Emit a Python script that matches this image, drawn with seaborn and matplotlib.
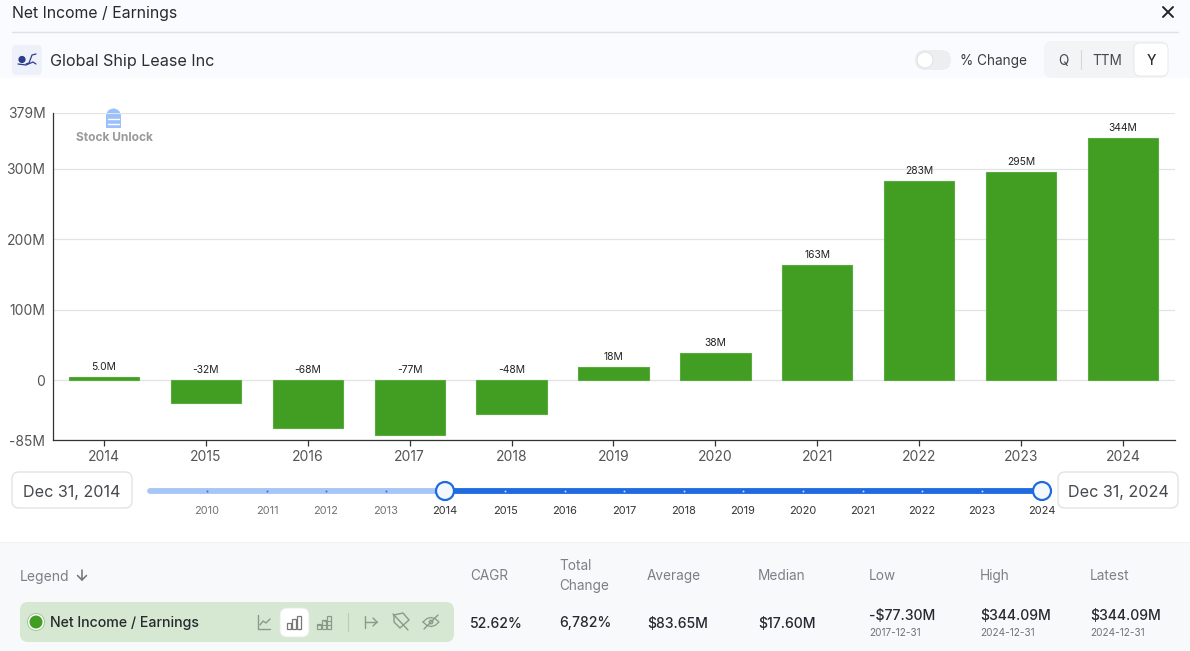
import matplotlib
matplotlib.use("Agg")
import matplotlib.pyplot as plt
import pandas as pd
import seaborn as sns
from matplotlib.patches import FancyBboxPatch, Circle, Rectangle, Wedge

years = ["2014", "2015", "2016", "2017", "2018", "2019", "2020", "2021", "2022", "2023", "2024"]
net_income = [5.0, -32, -68, -77.3, -48, 18, 38, 163, 283, 295, 344.09]
bar_labels = ["5.0M", "-32M", "-68M", "-77M", "-48M", "18M", "38M", "163M", "283M", "295M", "344M"]
y_ticks = [-85, 0, 100, 200, 300, 379]
y_labels = ["-85M", "0", "100M", "200M", "300M", "379M"]
slider_years = ["2010", "2011", "2012", "2013", "2014", "2015", "2016", "2017",
                "2018", "2019", "2020", "2021", "2022", "2023", "2024"]
stat_heads = ["CAGR", "Total\nChange", "Average", "Median", "Low", "High", "Latest"]
stat_vals = ["52.62%", "6,782%", "$83.65M", "$17.60M", "-$77.30M", "$344.09M", "$344.09M"]
stat_dates = ["", "", "", "", "2017-12-31", "2024-12-31", "2024-12-31"]

sns.set_theme(style="white")
plt.rcParams["font.family"] = ["Inter", "DejaVu Sans"]

GREEN = "#419E22"
BLUE = "#1F6AE1"
W, H = 1190, 651

df = pd.DataFrame({"year": years, "value": net_income})

fig = plt.figure(figsize=(11.9, 6.51), dpi=100, facecolor="white")

# page chrome, in pixel coords
ui = fig.add_axes([0, 0, 1, 1])
ui.set_xlim(0, W)
ui.set_ylim(H, 0)
ui.axis("off")


def box(x, y, w, h, r, fc, ec="none", lw=0.0, z=2):
    p = FancyBboxPatch((x + r, y + r), w - 2 * r, h - 2 * r, boxstyle=f"round,pad={r}",
                       fc=fc, ec=ec, lw=lw, zorder=z)
    ui.add_patch(p)


def line(xs, ys, c="#8b9a88", lw=1.0, z=5):
    ui.plot(xs, ys, color=c, lw=lw, zorder=z, solid_capstyle="round")


def txt(x, y, s, size, c="#333333", ha="left", va="center_baseline", **kw):
    ui.text(x, y, s, fontsize=size, color=c, ha=ha, va=va, zorder=6, **kw)


ui.add_patch(Rectangle((0, 0), W, 78, fc="#FAFBFE", ec="none", zorder=1))
ui.add_patch(Rectangle((0, 543), W, 108, fc="#F8F9FB", ec="none", zorder=1))
line([12, 1178], [32, 32], c="#DFE1E6", lw=1.0, z=2)

txt(12, 11.8, "Net Income / Earnings", 11.4, "#26292E")
line([1163, 1173], [7, 17], c="#222222", lw=1.4)
line([1163, 1173], [17, 7], c="#222222", lw=1.4)

# company logo
box(12, 45, 30, 30, 4, "#EEF1FA")
ui.add_patch(Circle((22, 59.5), 3.6, fc="#2C3C8F", ec="none", zorder=5))
line([26, 29, 32, 36], [64, 63, 55, 54], c="#2C3C8F", lw=0.9)
line([18, 26, 33, 36], [64, 65, 62, 64], c="#2C3C8F", lw=0.9)
txt(50, 60, "Global Ship Lease Inc", 11.6, "#2B2E33")

# % change toggle and Q / TTM / Y
box(915, 50, 36, 20, 10, "#ECEEF0")
ui.add_patch(Circle((925, 60), 8, fc="white", ec="#DDDDDD", lw=0.6, zorder=4))
txt(960, 59.5, "% Change", 9.8, "#3A3D42")
box(1044, 41, 124, 37, 8, "#F3F4F6")
box(1134, 43, 34, 33, 6, "white", ec="#E4E5E8", lw=0.6, z=3)
txt(1063, 59.5, "Q", 9.8, "#45484D", ha="center")
line([1080.5, 1080.5], [50, 69], c="#D4D6DA", lw=0.8)
txt(1107, 59.5, "TTM", 9.8, "#45484D", ha="center")
txt(1151, 59.5, "Y", 9.8, "#2B2E33", ha="center", weight="medium")

# watermark
ui.add_patch(Wedge((113.5, 116), 7.5, 180, 360, fc="#9CC0FB", ec="none", zorder=3))
ui.add_patch(Rectangle((106, 116), 15, 12, fc="#9CC0FB", ec="none", zorder=3))
line([108, 119], [118.5, 118.5], c="white", lw=1.0)
line([108, 119], [123.5, 123.5], c="white", lw=1.0)
txt(114, 136.5, "Stock Unlock", 8.6, "#9A9A9A", ha="center", weight="bold")

# date range slider
for x, s in [(12, "Dec 31, 2014"), (1058, "Dec 31, 2024")]:
    box(x, 472, 120, 36, 7, "white", ec="#E0E0E0", lw=0.9)
    txt(x + 60, 490.5, s, 11.6, "#45484D", ha="center")
line([150, 445], [491, 491], c="#A6C6F7", lw=4.2, z=3)
line([445, 1041], [491, 491], c=BLUE, lw=4.2, z=3)
slider_x = [207, 267, 326, 386, 445, 505, 565, 624, 684, 743, 803, 863, 922, 982, 1041.5]
for i, (x, s) in enumerate(zip(slider_x, slider_years)):
    on = i >= 4
    txt(x, 510, s, 7.9, "#333333" if on else "#6F7277", ha="center")
    if i not in (4, 14):
        ui.plot([x], [491], "s", ms=1.2, mew=0, color="#DCE9FD" if on else BLUE, zorder=4)
for x in (445, 1042):
    ui.add_patch(Circle((x, 491), 9, fc="#F3F7FE", ec=BLUE, lw=1.6, zorder=5))

# legend row
ui.add_patch(Rectangle((0, 542), W, 1.2, fc="#F1F2F4", ec="none", zorder=2))
txt(20, 575, "Legend", 10, "#7C8086")
line([82, 82], [570, 580], c="#6F7277", lw=1.1)
line([77.5, 82, 86.5], [575.5, 580, 575.5], c="#6F7277", lw=1.1)

box(20, 602, 434, 40, 8, "#D6E8D2")
ui.add_patch(Circle((36, 622), 8.5, fc="white", ec="#A4C69A", lw=0.7, zorder=4))
ui.add_patch(Circle((36, 622), 6.5, fc=GREEN, ec="none", zorder=5))
txt(50, 622, "Net Income / Earnings", 10.2, "#26292E", weight="medium")

# little row icons
line([258, 258, 270], [615, 629, 629])
line([260, 263, 266, 270], [625, 621, 623, 619])
box(280, 608, 29, 29, 7, "white", ec="#E6E8E6", lw=0.6, z=3)
for x, top in [(289, 623), (294, 619), (299, 616)]:
    ui.add_patch(Rectangle((x - 1.7, top), 3.4, 629 - top, fc="none", ec="#777777", lw=0.9, zorder=5))
for x, top in [(319, 624), (324, 620), (329, 616)]:
    ui.add_patch(Rectangle((x - 1.7, top), 3.4, 629 - top, fc="none", ec="#8b9a88", lw=0.9, zorder=5))
line([318, 331], [625, 625], lw=0.8)
line([324, 331], [621, 621], lw=0.8)
line([347.5, 347.5], [613, 631], c="#BACBB6", lw=0.8)
line([364.5, 364.5], [616, 628])
line([365, 377], [622, 622])
line([373, 377, 373], [618, 622, 626])
line([394, 394, 400, 409, 403, 394], [615, 622, 628, 620, 613, 615])
line([393, 408], [614, 630])
ui.add_patch(Circle((431, 622), 1.8, fc="none", ec="#8b9a88", lw=0.9, zorder=5))
ui.plot([423, 427, 431, 435, 439, 435, 431, 427, 423], [622, 618.5, 617.5, 618.5, 622, 625.5, 626.5, 625.5, 622],
        color="#8b9a88", lw=0.9, zorder=5)
line([424, 438], [629, 615])

# stats columns
stat_x = [470, 559, 647, 758, 869, 980, 1090]
for x, head, val, date in zip(stat_x, stat_heads, stat_vals, stat_dates):
    if "\n" in head:
        first, second = head.split("\n")
        txt(x, 564.5, first, 9.8, "#7C8086")
        txt(x, 584.5, second, 9.8, "#7C8086")
    else:
        txt(x, 574.5, head, 9.8, "#7C8086")
    if date:
        txt(x, 614, val, 10.1, "#26292E", weight="medium")
        txt(x, 632, date, 7.2, "#6F7277")
    else:
        txt(x, 622, val, 10.1, "#26292E", weight="medium")

# the chart itself
ax = fig.add_axes([53 / W, 1 - 440 / H, (1175 - 53) / W, (440 - 113) / H], facecolor="none")
sns.barplot(data=df, x="year", y="value", color=GREEN, saturation=1, width=0.69, ax=ax, zorder=3,
            edgecolor="#5BAA40", linewidth=0.8)
ax.set_xlim(-0.5, 10.51)
ax.set_ylim(-85, 379)
ax.set_xlabel("")
ax.set_ylabel("")
ax.set_yticks(y_ticks)
ax.set_yticklabels(y_labels, fontsize=10, color="#555555")
ax.tick_params(axis="y", length=0, pad=5.5)
ax.tick_params(axis="x", length=4, width=0.9, color="#333333", labelsize=10, labelcolor="#555555", pad=3,
               bottom=True)
ax.grid(axis="y", color="#E2E3E5", lw=0.9, zorder=0)
ax.set_axisbelow(True)
sns.despine(ax=ax, top=True, right=True)
ax.spines["left"].set_color("#333333")
ax.spines["bottom"].set_color("#333333")
ax.spines["left"].set_linewidth(0.9)
ax.spines["bottom"].set_linewidth(0.9)

for i, (v, s) in enumerate(zip(net_income, bar_labels)):
    ax.annotate(s, (i, max(v, 0)), xytext=(0, 5), textcoords="offset pixels", ha="center", va="bottom",
                fontsize=7.4, color="#222222")

fig.savefig("out.png", dpi=100)
